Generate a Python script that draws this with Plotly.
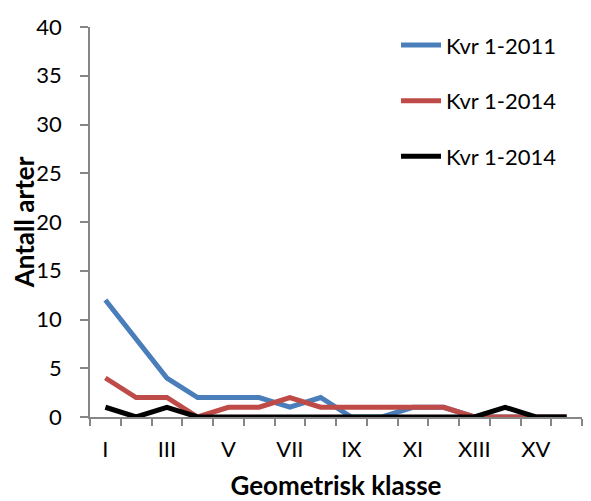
import plotly.graph_objects as go

categories = ["I", "II", "III", "IV", "V", "VI", "VII", "VIII", "IX", "X",
              "XI", "XII", "XIII", "XIV", "XV", "XVI"]
kvr_2011 = [12, 8, 4, 2, 2, 2, 1, 2, 0, 0, 1, 1, 0, 0, 0, 0]
kvr_2014a = [4, 2, 2, 0, 1, 1, 2, 1, 1, 1, 1, 1, 0, 0, 0, 0]
kvr_2014b = [1, 0, 1, 0, 0, 0, 0, 0, 0, 0, 0, 0, 0, 1, 0, 0]
series_names = ["Kvr 1-2011", "Kvr 1-2014", "Kvr 1-2014"]
y_ticks = [0, 5, 10, 15, 20, 25, 30, 35, 40]

FONT = "Lato"
xpos = list(range(1, len(categories) + 1))
colors = ["#4A7EBB", "#BE4B48", "#000000"]

fig = go.Figure()
for i, (name, vals) in enumerate(zip(series_names, [kvr_2011, kvr_2014a, kvr_2014b])):
    fig.add_trace(go.Scatter(
        x=xpos, y=vals, mode="lines", name=name, legendgroup=f"g{i}",
        line=dict(color=colors[i], width=5),
    ))

fig.update_layout(
    width=583, height=493,
    margin=dict(l=82, r=9, t=19, b=84, autoexpand=False),
    plot_bgcolor="white", paper_bgcolor="white",
    font=dict(family=FONT, size=22, color="#000000"),
    showlegend=True,
    legend=dict(x=0.622, y=1.007, xanchor="left", yanchor="top",
                font=dict(family=FONT, size=22), tracegroupgap=24,
                bgcolor="rgba(0,0,0,0)", itemwidth=40),
    xaxis=dict(
        range=[0.5, len(categories) + 0.5],
        tickvals=xpos[::2], ticktext=categories[::2],
        ticks="", showgrid=False, zeroline=False, automargin=False,
        showline=True, linecolor="#868686", linewidth=1.5,
        ticklabelstandoff=12,
        minor=dict(tick0=0.5, dtick=1, ticks="outside", ticklen=7,
                   tickcolor="#868686", tickwidth=1.5, showgrid=False),
        title=dict(text="<b>Geometrisk klasse</b>", font=dict(size=26), standoff=23),
    ),
    yaxis=dict(
        range=[0, 40], tickvals=y_ticks, automargin=False,
        ticks="outside", ticklen=8, tickcolor="#868686", tickwidth=1.5,
        showgrid=False, zeroline=False,
        showline=True, linecolor="#868686", linewidth=1.5,
        ticklabelstandoff=14,
        title=dict(text="<b>Antall arter</b>", font=dict(size=26), standoff=4),
    ),
)

fig.write_html("out.html")
